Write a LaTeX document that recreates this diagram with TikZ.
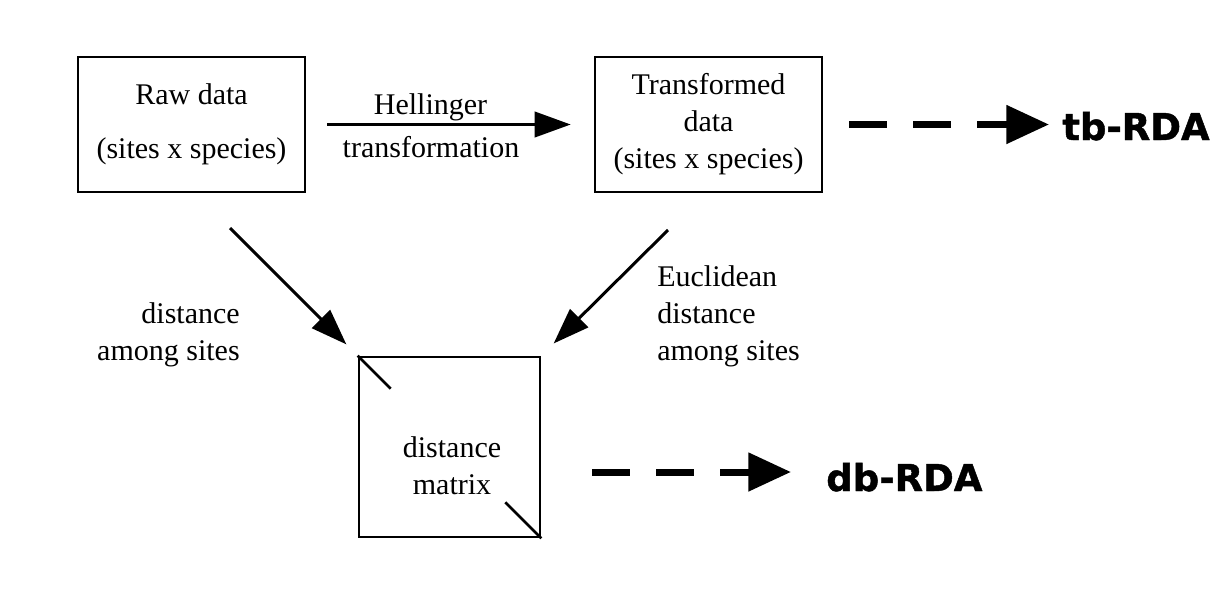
\documentclass[tikz,border=0pt]{standalone}
\usepackage{fontspec}
\setmainfont{Liberation Serif}
\newfontfamily\rdafont[BoldFeatures={FakeBold=1.2}]{DejaVu Sans}
\usetikzlibrary{arrows.meta}

\begin{document}
\begin{tikzpicture}[x=0.75pt,y=0.75pt,yscale=-1,xscale=1,
	every node/.style={font=\fontsize{22.5}{27.75}\selectfont},
	box/.style={draw,line width=2pt,inner sep=0pt,align=center},
	arr/.style={line width=2.25pt,-{Triangle[length=27pt,width=19pt]}},
	dasharr/.style={line width=5.25pt,dash pattern=on 28.5pt off 19.5pt,-{Triangle[length=32pt,width=28pt]}},
	rda/.style={font=\rdafont\bfseries\fontsize{27.75}{33}\selectfont,inner sep=0pt}]
	\useasboundingbox (0,0) rectangle (1224,594);
	
	%Shape: Rectangle
	\node[box,minimum width=170.25pt,minimum height=101.25pt] (raw) at (191.5,124.5) {Raw data\\[13pt](sites x species)};
	%Shape: Rectangle
	\node[box,minimum width=170.25pt,minimum height=101.25pt] (trans) at (708.5,124.5) {\raisebox{-2pt}{Transformed}\\\raisebox{-2pt}{data}\\\raisebox{-2pt}{(sites x species)}};
	%Shape: Rectangle
	\node[box,minimum width=135.75pt,minimum height=135pt] (dmat) at (449.5,447) {};
	\draw[line width=2pt] (dmat.north west) -- ++(33,33);
	\draw[line width=2pt] (dmat.south east) -- ++(-36,-36);
	
	% Text Node
	\node[align=center] (dmtext) at (452,466) {distance\\matrix};
	% Text Node
	\node[anchor=base] (hel) at (430.5,114) {Hellinger};
	\node[anchor=base] (heltr) at (431,157) {transformation};
	% Text Node
	\node[align=right,anchor=east,inner sep=0pt] (dleft) at (240,334.5) {distance\\among sites};
	% Text Node
	\node[align=left,anchor=west,inner sep=0pt] (dright) at (657,316) {Euclidean\\distance\\among sites};
	% Text Node
	\node[rda,anchor=base west] (tb) at (1062,140) {tb-RDA};
	\node[rda,anchor=base west] (db) at (826,491) {db-RDA};
	
	\coordinate (rs) at (230,228);
	\coordinate (ts) at (668,230);
	\coordinate (dbs) at (592,472);
	
	%Straight Lines
	\draw[arr,shorten <=15.75pt,shorten >=17.25pt] (raw.east) -- (trans.west);
	\draw[arr,shorten >=12pt] (rs) -- (dmat.north west);
	\draw[arr,shorten >=13pt] (ts) -- (dmat.north east);
	%Dashed Lines
	\draw[dasharr,shorten <=19.5pt,shorten >=9.75pt] (trans.east) -- (trans.east -| tb.west);
	\draw[dasharr,shorten >=26.25pt] (dbs) -- (dbs -| db.west);
	
\end{tikzpicture}
\end{document}
